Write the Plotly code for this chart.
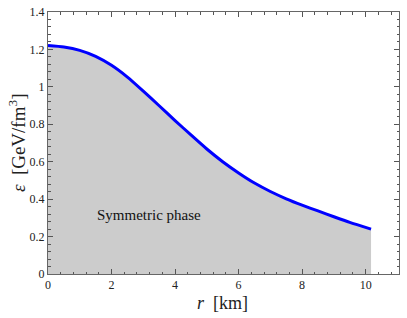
import plotly.graph_objects as go

r_km = [0, 0.5, 1, 1.5, 2, 2.5, 3, 3.5, 4, 4.5, 5, 5.5, 6, 6.5, 7, 7.5, 8, 8.5, 9, 9.5, 10.17]
eps = [1.221, 1.213, 1.195, 1.163, 1.115, 1.052, 0.977, 0.899, 0.82, 0.743, 0.668, 0.6, 0.54, 0.486, 0.441, 0.402, 0.368, 0.337, 0.306, 0.276, 0.24]

x_ticks = [0, 2, 4, 6, 8, 10]
x_ticklabels = ["0", "2", "4", "6", "8", "10"]
y_ticks = [0, 0.2, 0.4, 0.6, 0.8, 1.0, 1.2, 1.4]
y_ticklabels = ["0", "0.2", "0.4", "0.6", "0.8", "1", "1.2", "1.4"]

font = "Liberation Serif, Times New Roman, serif"

fig = go.Figure()
fig.add_trace(go.Scatter(
    x=r_km, y=eps, mode="lines",
    line=dict(color="#0000ff", width=3, shape="spline", smoothing=0.6),
    fill="tozeroy", fillcolor="rgb(204,204,204)", showlegend=False,
))
fig.add_annotation(x=3.18, y=0.316, text="Symmetric phase", showarrow=False,
                   font=dict(family=font, size=15, color="#111"))
# axis titles
fig.add_annotation(xref="paper", yref="paper", x=0.496, y=-0.11, yanchor="middle",
                   text="<i>r</i>  [km]", showarrow=False,
                   font=dict(family=font, size=18, color="#222"))
fig.add_annotation(xref="paper", yref="paper", x=-0.088, y=0.5, xanchor="center", yanchor="middle",
                   text="<i>ε</i>  [GeV/fm<sup>3</sup>]", textangle=-90, showarrow=False,
                   font=dict(family=font, size=19, color="#222"))

axis_common = dict(
    showgrid=False, zeroline=False, showline=True, linecolor="#666", linewidth=1,
    mirror="allticks", ticks="inside", ticklen=5, tickcolor="#555", automargin=False,
    tickfont=dict(family=font, size=12, color="#222"),
)
fig.update_xaxes(range=[0, 11.05], tickvals=x_ticks, ticktext=x_ticklabels,
                 minor=dict(dtick=0.4, ticks="inside", ticklen=2.5, tickcolor="#555"),
                 **axis_common)
fig.update_yaxes(range=[0, 1.4], tickvals=y_ticks, ticktext=y_ticklabels,
                 minor=dict(dtick=0.04, ticks="inside", ticklen=2.5, tickcolor="#555"),
                 **axis_common)
fig.update_layout(
    width=407, height=318, margin=dict(l=48, r=8, t=12, b=44),
    paper_bgcolor="white", plot_bgcolor="white",
)
fig.write_html("out.html", config={"displayModeBar": False},
               post_script="document.body.style.margin='0';document.body.style.overflow='hidden';")
